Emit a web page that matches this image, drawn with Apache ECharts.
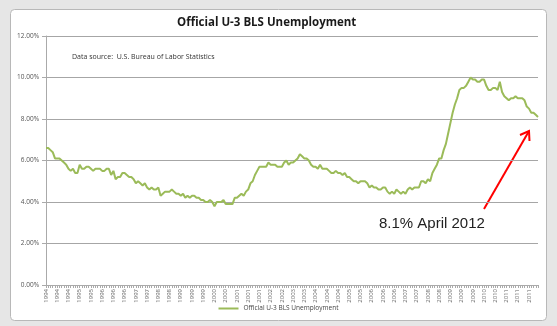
<!DOCTYPE html>
<html>
<head>
<meta charset="utf-8">
<script src="https://cdn.jsdelivr.net/npm/echarts@6/dist/echarts.min.js"></script>
<style>
  html, body { margin: 0; padding: 0; background: #e6e6e6; }
  #chart { width: 557px; height: 326px; }
</style>
</head>
<body>
<div id="chart"></div>
<script>
// Monthly U-3 unemployment rate (seasonally adjusted), Jan 1994 - Apr 2012
const years = [1994, 1995, 1996, 1997, 1998, 1999, 2000, 2001, 2002, 2003,
               2004, 2005, 2006, 2007, 2008, 2009, 2010, 2011, 2012];

const rate1994 = [6.6, 6.6, 6.5, 6.4, 6.1, 6.1, 6.1, 6.0, 5.9, 5.8, 5.6, 5.5];
const rate1995 = [5.6, 5.4, 5.4, 5.8, 5.6, 5.6, 5.7, 5.7, 5.6, 5.5, 5.6, 5.6];
const rate1996 = [5.6, 5.5, 5.5, 5.6, 5.6, 5.3, 5.5, 5.1, 5.2, 5.2, 5.4, 5.4];
const rate1997 = [5.3, 5.2, 5.2, 5.1, 4.9, 5.0, 4.9, 4.8, 4.9, 4.7, 4.6, 4.7];
const rate1998 = [4.6, 4.6, 4.7, 4.3, 4.4, 4.5, 4.5, 4.5, 4.6, 4.5, 4.4, 4.4];
const rate1999 = [4.3, 4.4, 4.2, 4.3, 4.2, 4.3, 4.3, 4.2, 4.2, 4.1, 4.1, 4.0];
const rate2000 = [4.0, 4.1, 4.0, 3.8, 4.0, 4.0, 4.0, 4.1, 3.9, 3.9, 3.9, 3.9];
const rate2001 = [4.2, 4.2, 4.3, 4.4, 4.3, 4.5, 4.6, 4.9, 5.0, 5.3, 5.5, 5.7];
const rate2002 = [5.7, 5.7, 5.7, 5.9, 5.8, 5.8, 5.8, 5.7, 5.7, 5.7, 5.9, 6.0];
const rate2003 = [5.8, 5.9, 5.9, 6.0, 6.1, 6.3, 6.2, 6.1, 6.1, 6.0, 5.8, 5.7];
const rate2004 = [5.7, 5.6, 5.8, 5.6, 5.6, 5.6, 5.5, 5.4, 5.4, 5.5, 5.4, 5.4];
const rate2005 = [5.3, 5.4, 5.2, 5.2, 5.1, 5.0, 5.0, 4.9, 5.0, 5.0, 5.0, 4.9];
const rate2006 = [4.7, 4.8, 4.7, 4.7, 4.6, 4.6, 4.7, 4.7, 4.5, 4.4, 4.5, 4.4];
const rate2007 = [4.6, 4.5, 4.4, 4.5, 4.4, 4.6, 4.7, 4.6, 4.7, 4.7, 4.7, 5.0];
const rate2008 = [5.0, 4.9, 5.1, 5.0, 5.4, 5.6, 5.8, 6.1, 6.1, 6.5, 6.8, 7.3];
const rate2009 = [7.8, 8.3, 8.7, 9.0, 9.4, 9.5, 9.5, 9.6, 9.8, 10.0, 9.9, 9.9];
const rate2010 = [9.8, 9.8, 9.9, 9.9, 9.6, 9.4, 9.4, 9.5, 9.5, 9.4, 9.8, 9.3];
const rate2011 = [9.1, 9.0, 8.9, 9.0, 9.0, 9.1, 9.0, 9.0, 9.0, 8.9, 8.6, 8.5];
const rate2012 = [8.3, 8.3, 8.2, 8.1];

const yearlyRates = [rate1994, rate1995, rate1996, rate1997, rate1998, rate1999,
                     rate2000, rate2001, rate2002, rate2003, rate2004, rate2005,
                     rate2006, rate2007, rate2008, rate2009, rate2010, rate2011, rate2012];

// One category per month, labelled with its year
const monthLabels = [];
const rates = [];
yearlyRates.forEach((row, i) => {
  row.forEach(v => {
    monthLabels.push(String(years[i]));
    rates.push(v / 100);
  });
});

const seriesName = 'Official U-3 BLS Unemployment';
const titleText = 'Official U-3 BLS Unemployment';
const sourceText = 'Data source:  U.S. Bureau of Labor Statistics';
const calloutText = '8.1% April 2012';

const chart = echarts.init(document.getElementById('chart'), null, { renderer: 'canvas' });

chart.setOption({
  backgroundColor: '#e6e6e6',
  animation: false,
  title: {
    text: titleText,
    left: 172,
    top: 12,
    textStyle: { fontFamily: 'Open Sans', fontWeight: 'bold', fontSize: 11.5, color: '#1a1a1a' }
  },
  legend: {
    bottom: 9,
    left: 'center',
    itemWidth: 20,
    itemHeight: 2,
    icon: 'rect',
    textStyle: { fontFamily: 'Open Sans', fontSize: 6.5, color: '#444' },
    data: [seriesName]
  },
  grid: { left: 46, right: 19, top: 36, bottom: 41 },
  xAxis: {
    type: 'category',
    data: monthLabels,
    boundaryGap: false,
    axisLine: { lineStyle: { color: '#aaaaaa', width: 1 } },
    axisTick: { show: true, interval: 0, length: 3, lineStyle: { color: '#aaaaaa' } },
    axisLabel: {
      interval: 4,
      rotate: 90,
      fontFamily: 'Open Sans',
      fontSize: 6,
      color: '#666',
      margin: 4
    },
    splitLine: { show: false }
  },
  yAxis: {
    type: 'value',
    min: 0,
    max: 0.12,
    interval: 0.02,
    axisLine: { show: true, lineStyle: { color: '#aaaaaa' } },
    axisTick: { show: true, length: 4, lineStyle: { color: '#aaaaaa' } },
    axisLabel: {
      formatter: v => (v * 100).toFixed(2) + '%',
      fontFamily: 'Open Sans',
      fontSize: 6.5,
      color: '#555',
      margin: 7
    },
    splitLine: { lineStyle: { color: '#a6a6a6', width: 1 } }
  },
  series: [{
    name: seriesName,
    type: 'line',
    data: rates,
    showSymbol: false,
    symbol: 'none',
    lineStyle: { color: '#9bbb59', width: 2 },
    itemStyle: { color: '#9bbb59' }
  }],
  graphic: [
    // chart frame
    { type: 'rect', z: -10, silent: true,
      shape: { x: 10.5, y: 9.5, width: 536, height: 311, r: 4 },
      style: { fill: '#ffffff', stroke: '#b8b8b8', lineWidth: 1 } },
    { type: 'text', left: 72, top: 53,
      style: { text: sourceText, fontFamily: 'Open Sans', fontSize: 7, fill: '#333' } },
    // callout
    { type: 'text', left: 379, top: 216,
      style: { text: calloutText, fontFamily: 'Liberation Sans', fontSize: 15, fill: '#222' } },
    { type: 'line', shape: { x1: 484, y1: 209, x2: 529, y2: 131 },
      style: { stroke: '#ff0000', lineWidth: 2 } },
    { type: 'polyline', shape: { points: [[520, 135], [529, 131], [529.5, 141]] },
      style: { stroke: '#ff0000', lineWidth: 2, fill: null } }
  ]
});
</script>
</body>
</html>
